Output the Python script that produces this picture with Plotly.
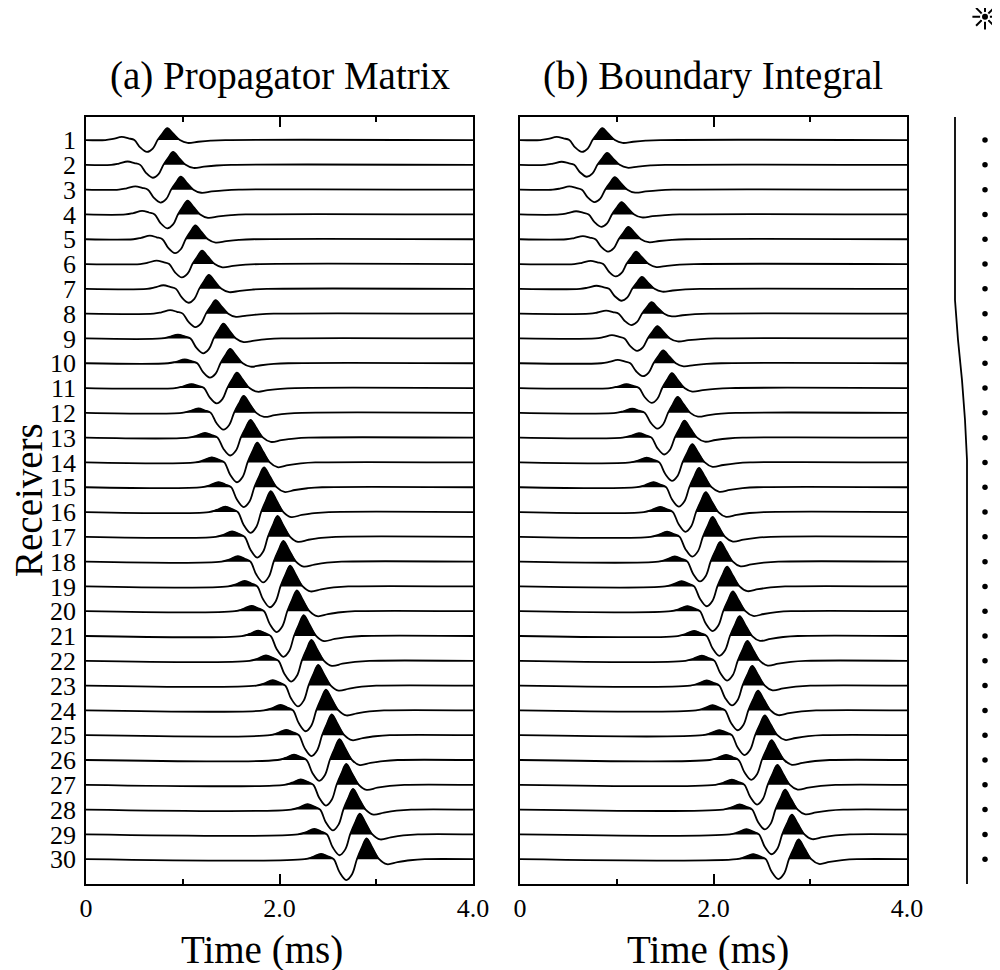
import plotly.graph_objects as go

# receiver numbers (top to bottom)
receivers = list(range(1, 31))

# time of the main positive peak on each trace (ms)
peak_time_pm = [0.84, 0.90, 0.98, 1.05, 1.13, 1.20, 1.27, 1.34, 1.42, 1.49,
                1.56, 1.63, 1.70, 1.77, 1.84, 1.91, 1.98, 2.04, 2.11, 2.18,
                2.25, 2.33, 2.40, 2.48, 2.54, 2.62, 2.69, 2.76, 2.83, 2.90]
peak_time_bi = [0.85, 0.90, 0.98, 1.05, 1.12, 1.20, 1.26, 1.36, 1.42, 1.48,
                1.57, 1.63, 1.70, 1.78, 1.85, 1.92, 1.99, 2.07, 2.14, 2.20,
                2.27, 2.35, 2.40, 2.46, 2.53, 2.60, 2.66, 2.74, 2.81, 2.88]

# peak amplitude of each trace, as a fraction of the trace spacing
amp_pm = [0.48, 0.52, 0.52, 0.56, 0.56, 0.54, 0.56, 0.54, 0.60, 0.58,
          0.62, 0.68, 0.72, 0.80, 0.80, 0.84, 0.84, 0.84, 0.84, 0.84,
          0.84, 0.84, 0.84, 0.84, 0.84, 0.84, 0.84, 0.84, 0.84, 0.84]
amp_bi = [0.48, 0.48, 0.50, 0.50, 0.50, 0.50, 0.48, 0.46, 0.50, 0.52,
          0.60, 0.64, 0.68, 0.74, 0.78, 0.80, 0.80, 0.80, 0.80, 0.80,
          0.80, 0.80, 0.80, 0.80, 0.80, 0.80, 0.80, 0.80, 0.80, 0.80]

# wavelet shape: offsets from the main peak (ms) and normalised amplitude
wavelet_offset = [-0.64, -0.56, -0.47, -0.40, -0.34, -0.28, -0.21, -0.15, -0.10,
                  -0.05, 0.0, 0.06, 0.13, 0.21, 0.32, 0.45, 0.60]
wavelet_shape = [0.0, 0.10, 0.26, 0.14, 0.0, -0.62, -1.0, -0.72, 0.0,
                 0.55, 1.0, 0.55, 0.0, -0.24, -0.14, -0.05, 0.0]

# model sketch on the right: interface and receiver positions
interface_depth = [0.07, 7.45, 9.06, 10.68, 12.29, 13.9, 31.0]
interface_offset = [0, 0, 3, 7, 10, 12, 12]
receiver_offset = 30
source_depth = -3.97

t_max = 4.0
FONT = "Liberation Serif"
MIN_FILL = 0.15  # lobes lower than this (trace spacings) are left unfilled


# the page is drawn with an 8px body margin: convert picture pixels to paper units
def px_x(p):
    return (p - 8) / 1000


def px_y(p):
    return 1 - (p - 8) / 970


def wiggles(peaks, amps):
    lx, ly, fx, fy = [], [], [], []
    n = len(wavelet_shape)
    for rec, tp, a in zip(receivers, peaks, amps):
        xs = [0.0] + [tp + o for o in wavelet_offset] + [t_max]
        ys = [rec] + [rec - a * v for v in wavelet_shape] + [rec]
        lx += xs + [None]
        ly += ys + [None]
        # positive lobes, bounded by zero points of the wavelet
        i = 0
        while i < n:
            if wavelet_shape[i] > 0:
                j = i
                while j < n and wavelet_shape[j] > 0:
                    j += 1
                if a * max(wavelet_shape[i:j]) > MIN_FILL:
                    seg = range(i - 1, j + 1)
                    fx += [tp + wavelet_offset[k] for k in seg] + [None]
                    fy += [rec - a * wavelet_shape[k] for k in seg] + [None]
                i = j
            else:
                i += 1
    return lx, ly, fx, fy


fig = go.Figure()
for peaks, amps, xa, ya in [(peak_time_pm, amp_pm, "x", "y"),
                            (peak_time_bi, amp_bi, "x2", "y2")]:
    lx, ly, fx, fy = wiggles(peaks, amps)
    fig.add_trace(go.Scatter(x=fx, y=fy, mode="lines", fill="toself",
                             fillcolor="black", line=dict(color="black", width=0.5, shape="spline"),
                             xaxis=xa, yaxis=ya, hoverinfo="skip"))
    fig.add_trace(go.Scatter(x=lx, y=ly, mode="lines",
                             line=dict(color="black", width=1.8, shape="spline"),
                             xaxis=xa, yaxis=ya, hoverinfo="skip"))

# model panel (its y axis spans the whole page so the source symbol fits)
fig.add_trace(go.Scatter(x=interface_offset, y=interface_depth, mode="lines",
                         line=dict(color="black", width=1.8), xaxis="x3", yaxis="y3"))
fig.add_trace(go.Scatter(x=[receiver_offset] * len(receivers), y=receivers, mode="markers",
                         marker=dict(color="black", size=5.5), xaxis="x3", yaxis="y3"))
fig.add_trace(go.Scatter(x=[receiver_offset], y=[source_depth], mode="markers",
                         marker=dict(symbol="asterisk-open", size=21, color="black",
                                     line=dict(color="black", width=2)),
                         xaxis="x3", yaxis="y3"))
fig.add_trace(go.Scatter(x=[receiver_offset], y=[source_depth], mode="markers",
                         marker=dict(symbol="circle", size=9, color="white",
                                     line=dict(color="white", width=1)),
                         xaxis="x3", yaxis="y3"))
fig.add_trace(go.Scatter(x=[receiver_offset], y=[source_depth], mode="markers",
                         marker=dict(symbol="circle", size=6, color="black"),
                         xaxis="x3", yaxis="y3"))

# frame: top at 117px, bottom at 884px, receivers 0.07 .. 31
top_px, bot_px = 117, 884
yrange = [31.0, 0.07]
ydom = [px_y(bot_px), px_y(top_px)]
per_px = (yrange[0] - yrange[1]) / (bot_px - top_px)
y3range = [yrange[0] + (978 - bot_px) * per_px, yrange[1] - (top_px - 8) * per_px]

tickstyle = dict(range=[0, t_max], ticks="inside", ticklen=10, tickwidth=1.5, tickcolor="black",
                 tickvals=[0, 2, 4],
                 minor=dict(tickvals=[1, 3], ticks="inside", ticklen=5, tickwidth=1.5,
                            tickcolor="black"),
                 showgrid=False, zeroline=False, fixedrange=True, automargin=False)
xcommon = dict(showline=True, mirror=True, linecolor="black", linewidth=1.5,
               ticktext=["0", "2.0", "4.0"],
               tickfont=dict(family=FONT, size=26, color="black"), **tickstyle)
xtop = dict(side="top", showline=False, showticklabels=False, **tickstyle)

fig.update_layout(
    width=1000, height=970,
    margin=dict(l=0, r=0, t=0, b=0, autoexpand=False),
    paper_bgcolor="white", plot_bgcolor="white",
    showlegend=False,
    xaxis=dict(domain=[px_x(86), px_x(473)], anchor="y", **xcommon),
    xaxis2=dict(domain=[px_x(520), px_x(907)], anchor="y2", **xcommon),
    xaxis3=dict(domain=[px_x(940), px_x(1000)], anchor="y3", range=[-15, 45], visible=False),
    xaxis4=dict(overlaying="x", anchor="y", **xtop),
    xaxis5=dict(overlaying="x2", anchor="y2", **xtop),
    yaxis=dict(domain=ydom, range=yrange, anchor="x", showline=True, mirror=True,
               linecolor="black", linewidth=1.5, ticks="", tickvals=receivers,
               ticktext=[str(r) for r in receivers], ticklabelstandoff=3,
               tickfont=dict(family=FONT, size=26, color="black"),
               showgrid=False, zeroline=False, automargin=False),
    yaxis2=dict(domain=ydom, range=yrange, anchor="x2", showline=True, mirror=True,
                linecolor="black", linewidth=1.5, showticklabels=False, ticks="",
                showgrid=False, zeroline=False, automargin=False),
    yaxis3=dict(domain=[0, 1], range=y3range, anchor="x3", visible=False),
    annotations=[
        dict(text="(a) Propagator Matrix", x=px_x(280), y=px_y(76), xref="paper", yref="paper",
             xanchor="center", yanchor="middle", showarrow=False,
             font=dict(family=FONT, size=39, color="black")),
        dict(text="(b) Boundary Integral", x=px_x(713), y=px_y(76), xref="paper", yref="paper",
             xanchor="center", yanchor="middle", showarrow=False,
             font=dict(family=FONT, size=39, color="black")),
        dict(text="Time (ms)", x=px_x(262), y=px_y(950), xref="paper", yref="paper",
             xanchor="center", yanchor="middle", showarrow=False,
             font=dict(family=FONT, size=39, color="black")),
        dict(text="Time (ms)", x=px_x(708), y=px_y(950), xref="paper", yref="paper",
             xanchor="center", yanchor="middle", showarrow=False,
             font=dict(family=FONT, size=39, color="black")),
        dict(text="Receivers", x=px_x(28), y=px_y(500), xref="paper", yref="paper",
             xanchor="center", yanchor="middle", textangle=-90, showarrow=False,
             font=dict(family=FONT, size=39, color="black")),
    ],
)

# the top-side tick axes need at least one trace each
for xa, ya in [("x4", "y"), ("x5", "y2")]:
    fig.add_trace(go.Scatter(x=[None], y=[None], xaxis=xa, yaxis=ya, hoverinfo="skip"))

fig.write_html("out.html")
